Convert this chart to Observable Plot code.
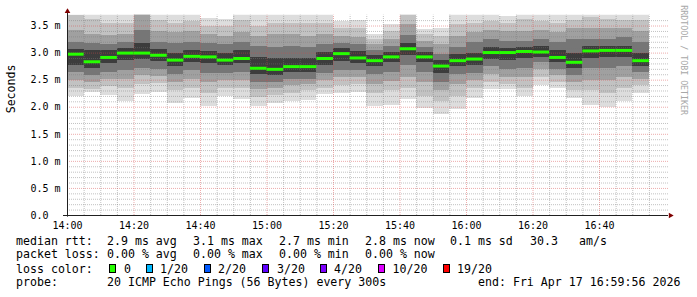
<!DOCTYPE html>
<html><head><meta charset="utf-8">
<script src="https://cdn.jsdelivr.net/npm/d3@7"></script>
<script src="https://cdn.jsdelivr.net/npm/@observablehq/plot@0.6"></script>
<style>
body{margin:0;background:#fff;}
#wrap{position:relative;width:697px;height:297px;overflow:hidden;background:#fff;}
#chart svg{display:block;}
#legend{position:absolute;left:0;top:232px;width:697px;height:65px;font-family:"DejaVu Sans Mono",monospace;font-size:11.6px;line-height:14px;color:#000;}
#legend span{position:absolute;white-space:pre;}
#legend .box{position:absolute;width:7px;height:8.4px;box-sizing:border-box;border:1px solid #000;}
</style></head>
<body><div id="wrap"><div id="chart"></div><div id="legend"></div></div>
<script>
// ---- data ----
const barTimes = ["14:00","14:05","14:10","14:15","14:20","14:25","14:30","14:35","14:40","14:45","14:50","14:55",
  "15:00","15:05","15:10","15:15","15:20","15:25","15:30","15:35","15:40","15:45","15:50","15:55",
  "16:00","16:05","16:10","16:15","16:20","16:25","16:30","16:35","16:40","16:45","16:50"];
const median = [2.98,2.84,2.92,3.00,3.00,2.96,2.87,2.94,2.93,2.87,2.90,2.72,2.70,2.75,2.75,2.90,2.99,2.91,
  2.86,2.93,3.08,2.93,2.76,2.86,2.89,3.01,3.01,3.03,3.02,2.92,2.83,3.04,3.05,3.05,2.86];
const hi1 = [3.85,3.72,3.74,3.73,4.30,3.80,3.72,3.72,3.64,3.62,3.78,3.75,3.72,3.72,3.72,3.72,3.58,3.60,
  3.35,3.52,3.95,3.43,3.46,3.74,3.72,3.72,3.68,3.80,3.74,3.72,3.72,3.85,3.80,3.72,3.78];
const hi2 = [3.70,3.62,3.55,3.55,3.98,3.60,3.55,3.58,3.50,3.50,3.60,3.50,3.55,3.55,3.55,3.55,3.45,3.45,
  3.25,3.40,3.75,3.35,3.30,3.52,3.55,3.58,3.55,3.62,3.58,3.55,3.60,3.65,3.62,3.60,3.60];
const hi3 = [3.42,3.35,3.32,3.35,3.72,3.40,3.38,3.40,3.35,3.30,3.38,3.30,3.35,3.35,3.30,3.35,3.30,3.28,
  3.15,3.25,3.52,3.22,3.15,3.30,3.38,3.42,3.40,3.40,3.42,3.38,3.45,3.45,3.45,3.45,3.40];
const hi4 = [3.20,3.18,3.15,3.20,3.42,3.20,3.18,3.20,3.18,3.15,3.20,3.12,3.10,3.12,3.10,3.15,3.18,3.15,
  3.05,3.12,3.32,3.10,2.98,3.10,3.20,3.25,3.22,3.22,3.25,3.20,3.25,3.25,3.25,3.28,3.20];
const hi5 = [3.07,3.04,3.04,3.08,3.18,3.06,3.00,3.05,3.03,3.00,3.04,2.92,2.90,2.90,2.90,3.02,3.08,3.03,
  2.95,3.02,3.17,3.02,2.86,2.97,3.00,3.10,3.08,3.10,3.12,3.05,3.00,3.13,3.13,3.13,3.00];
const lo5 = [2.78,2.72,2.80,2.86,2.88,2.85,2.76,2.82,2.80,2.77,2.80,2.60,2.58,2.65,2.65,2.78,2.84,2.80,
  2.75,2.82,2.96,2.82,2.63,2.75,2.78,2.88,2.86,2.90,2.92,2.82,2.72,2.90,2.92,2.92,2.76];
const lo4 = [2.64,2.58,2.65,2.68,2.72,2.70,2.60,2.68,2.62,2.63,2.65,2.45,2.45,2.52,2.52,2.62,2.68,2.68,
  2.60,2.65,2.78,2.65,2.45,2.60,2.62,2.75,2.70,2.72,2.82,2.70,2.58,2.72,2.72,2.75,2.65];
const lo3 = [2.50,2.45,2.52,2.52,2.58,2.57,2.45,2.52,2.45,2.50,2.50,2.32,2.35,2.40,2.42,2.50,2.55,2.55,
  2.42,2.48,2.55,2.45,2.30,2.42,2.50,2.60,2.55,2.55,2.70,2.58,2.45,2.50,2.50,2.55,2.52];
const lo2 = [2.35,2.33,2.38,2.35,2.42,2.43,2.30,2.35,2.25,2.35,2.35,2.18,2.22,2.25,2.30,2.35,2.40,2.42,
  2.25,2.30,2.35,2.20,2.10,2.20,2.35,2.45,2.42,2.35,2.55,2.45,2.30,2.30,2.25,2.35,2.40];
const lo1 = [2.20,2.28,2.22,2.10,2.24,2.28,2.07,2.16,2.02,2.20,2.14,2.01,2.07,2.10,2.13,2.23,2.26,2.28,
  2.01,2.04,2.14,1.98,1.86,1.96,2.17,2.32,2.32,2.20,2.40,2.35,2.16,2.04,1.99,2.10,2.26];
const smokeColors = ["#dddddd","#c2c2c2","#a0a0a0","#767676","#3c3c3c"];
const xTickLabels = ["14:00","14:20","14:40","15:00","15:20","15:40","16:00","16:20","16:40"];
const yTicks = [0,0.5,1.0,1.5,2.0,2.5,3.0,3.5];
const rttLabel = "median rtt:";
const rttStats = ["2.9 ms avg","3.1 ms max","2.7 ms min","2.8 ms now","0.1 ms sd"];
const amsValue = "30.3", amsUnit = "am/s";
const lossLabel = "packet loss:";
const lossStats = ["0.00 % avg","0.00 % max","0.00 % min","0.00 % now"];
const lossColorLabel = "loss color:";
const lossColors = ["#26ff00","#00b8ff","#0059ff","#5e00ff","#7e00ff","#dd00ff","#ff0000"];
const lossNames = ["0","1/20","2/20","3/20","4/20","10/20","19/20"];
const probeLabel = "probe:";
const probeText = "20 ICMP Echo Pings (56 Bytes) every 300s";
const endText = "end: Fri Apr 17 16:59:56 2026";
const credit = "RRDTOOL / TOBI OETIKER";

// ---- build ----
const T = s => new Date("2026-04-17T" + (s.length === 5 ? s + ":00" : s) + "Z");
const STEP = 5 * 60 * 1000;
const rows = [];
barTimes.forEach((t, i) => {
  const t1 = T(t), t2 = new Date(+t1 + STEP);
  const lows = [lo1[i], lo2[i], lo3[i], lo4[i], lo5[i]];
  const highs = [hi1[i], hi2[i], hi3[i], hi4[i], hi5[i]];
  for (let j = 0; j < 5; j++) rows.push({t1, t2, lo: lows[j], hi: highs[j], color: smokeColors[j]});
});
const meds = barTimes.map((t, i) => ({t1: T(t), t2: new Date(+T(t) + STEP), v: median[i]}));

const xStart = T("14:00"), xEnd = T("17:00:45");
const allFive = d3.range(+T("14:05"), +T("17:00"), STEP).map(d => new Date(d));
const minorX = allFive.filter(d => d.getUTCMinutes() % 20 !== 0);
const majorX = allFive.filter(d => d.getUTCMinutes() % 20 === 0);
const minorY = d3.range(1, 37).filter(k => k % 5 !== 0).map(k => k / 10);
const majorY = [0.5,1.0,1.5,2.0,2.5,3.0,3.5];
const gridMinor = "rgba(120,120,120,0.45)", gridMajor = "rgba(215,70,70,0.45)";

const chart = Plot.plot({
  width: 697, height: 232,
  marginLeft: 67, marginRight: 29, marginTop: 14.7, marginBottom: 17,
  style: {fontFamily: "'DejaVu Sans Mono', monospace", fontSize: "10px", background: "#fff", overflow: "visible"},
  x: {type: "utc", domain: [xStart, xEnd]},
  y: {domain: [0, 3.7]},
  color: {type: "identity"},
  marks: [
    Plot.rect(rows, {x1: "t1", x2: "t2", y1: "lo", y2: "hi", fill: "color", clip: true, shapeRendering: "crispEdges"}),
    Plot.ruleX(minorX, {y1: 0, y2: 3.7, stroke: gridMinor, strokeDasharray: "1,1"}),
    Plot.ruleY(minorY, {x1: () => xStart, x2: () => xEnd, stroke: gridMinor, strokeDasharray: "1,1"}),
    Plot.ruleX(majorX, {y1: 0, y2: 3.7, stroke: gridMajor, strokeDasharray: "1,1"}),
    Plot.ruleY(majorY, {x1: () => xStart, x2: () => xEnd, stroke: gridMajor, strokeDasharray: "1,1"}),
    Plot.ruleY(meds, {y: "v", x1: "t1", x2: "t2", stroke: "#26ff00", strokeWidth: 3}),
    Plot.ruleY([0], {x1: () => T("13:58:48"), x2: () => xEnd, stroke: "#202020"}),
    Plot.ruleX([xStart], {y1: -0.03, y2: 3.76, stroke: "#202020"}),
    Plot.dot([0], {x: () => xStart, y: () => 3.77, symbol: "triangle", r: 2.1, fill: "#7f0000", stroke: null}),
    Plot.dot([0], {x: () => T("17:01:20"), y: () => 0, symbol: "triangle", r: 2.1, rotate: 90, fill: "#7f0000", stroke: null}),
    Plot.axisX(xTickLabels.map(T), {tickFormat: d3.utcFormat("%H:%M"), tickSize: 0, tickPadding: 6, label: null}),
    Plot.axisY(yTicks, {tickFormat: d => d === 0 ? "0.0" : d.toFixed(1) + " m", tickSize: 0, tickPadding: 0, textAnchor: "start", dx: -37, label: null}),
    Plot.text(["Seconds"], {frameAnchor: "left", rotate: -90, dx: -56, dy: -2, fontSize: 11.6, fill: "#000"}),
    Plot.text([credit], {frameAnchor: "top-right", rotate: 90, textAnchor: "start", dx: 18, dy: -10, fontSize: 8.3, fill: "#a8a8a8"})
  ]
});
document.getElementById("chart").append(chart);

// ---- legend text below the chart ----
const L = document.getElementById("legend");
function put(text, x, top) {
  const s = document.createElement("span");
  s.textContent = text; s.style.left = x + "px"; s.style.top = top + "px";
  L.append(s);
}
const lineTop = [2.0, 15.3, 29.7, 43.0];
put(rttLabel, 16, lineTop[0]);
[107, 193, 279, 365, 450].forEach((x, i) => put(rttStats[i], x, lineTop[0]));
put(amsValue, 530, lineTop[0]);
put(amsUnit, 579, lineTop[0]);
put(lossLabel, 16, lineTop[1]);
[107, 193, 279, 365].forEach((x, i) => put(lossStats[i], x, lineTop[1]));
put(lossColorLabel, 16, lineTop[2]);
const boxX = [108.5, 146, 203.5, 262, 320, 378, 443];
const nameX = [124, 160, 218, 277, 334, 392.5, 457];
lossColors.forEach((c, i) => {
  const b = document.createElement("div");
  b.className = "box"; b.style.left = boxX[i] + "px"; b.style.top = "32.3px"; b.style.background = c;
  L.append(b);
  put(lossNames[i], nameX[i], lineTop[2]);
});
put(probeLabel, 16, lineTop[3]);
put(probeText, 107, lineTop[3]);
put(endText, 478, lineTop[3]);
</script>
</body></html>
